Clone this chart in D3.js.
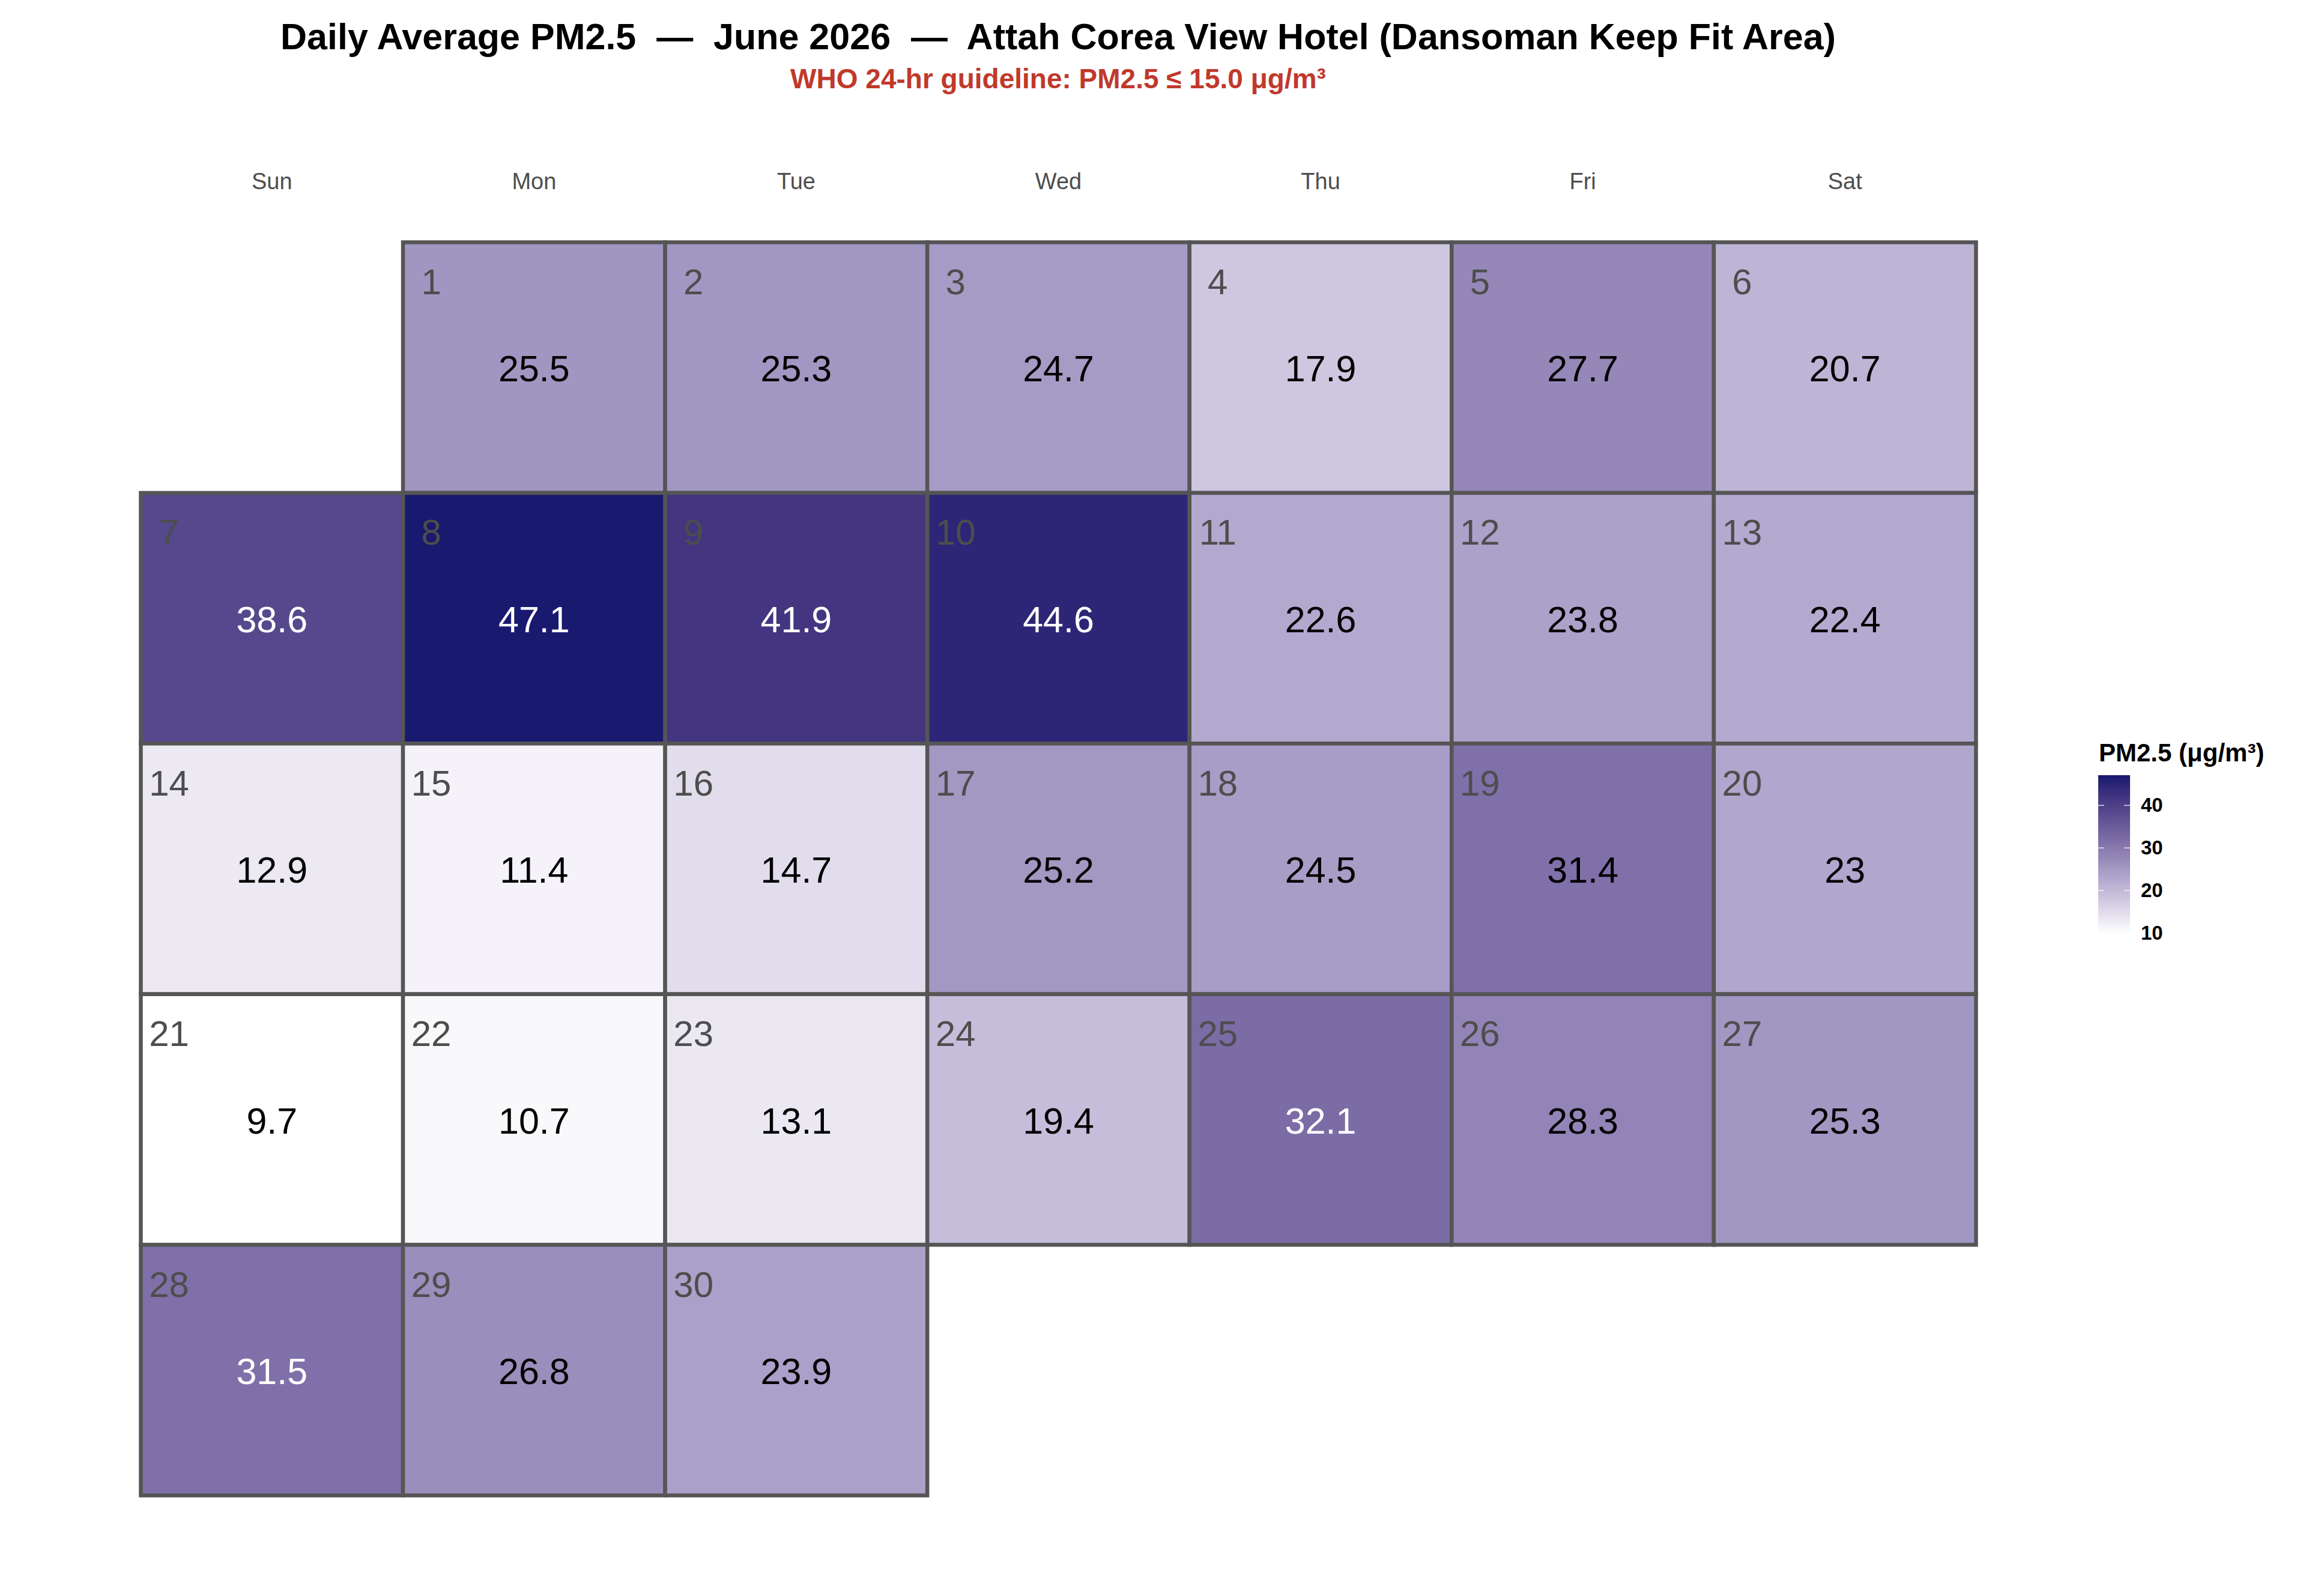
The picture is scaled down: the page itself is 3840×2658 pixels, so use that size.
<!DOCTYPE html>
<html>
<head>
<meta charset="utf-8">
<script src="https://cdn.jsdelivr.net/npm/d3@7"></script>
<style>
  body { margin: 0; background: #fff; }
  text { font-family: "Liberation Sans", Arial, sans-serif; }
</style>
</head>
<body>
<svg id="chart" width="3840" height="2658"></svg>
<script>
// data: June 2026 daily PM2.5 means
const year = 2026;
const month = 5; // June (0-based)
const days = d3.range(1, 31);
const pm25 = [
  25.5, 25.3, 24.7, 17.9, 27.7, 20.7,
  38.6, 47.1, 41.9, 44.6, 22.6, 23.8, 22.4,
  12.9, 11.4, 14.7, 25.2, 24.5, 31.4, 23,
  9.7, 10.7, 13.1, 19.4, 32.1, 28.3, 25.3,
  31.5, 26.8, 23.9
];
const weekdays = ["Sun", "Mon", "Tue", "Wed", "Thu", "Fri", "Sat"];
const legendTicks = [10, 20, 30, 40];

const titleText = "Daily Average PM2.5  \u2014  June 2026  \u2014  Attah Corea View Hotel (Dansoman Keep Fit Area)";
const subtitleText = "WHO 24-hr guideline: PM2.5 \u2264 15.0 \u03bcg/m\u00b3";

const svg = d3.select("#chart");
const font = '"Liberation Sans", Arial, sans-serif';

// build cells from the dates
const firstDay = new Date(year, month, 1);
const cells = days.map((d, i) => {
  const date = new Date(year, month, d);
  return {
    day: d,
    value: pm25[i],
    dow: date.getDay(),
    week: d3.timeWeek.count(firstDay, date)
  };
});

const x = d3.scaleBand().domain(weekdays).range([234.5, 3290.5]);
const y = d3.scaleBand().domain(d3.range(5)).range([403.5, 2490.5]);

const extent = d3.extent(pm25);
// colour ramp, white -> lavender -> midnight blue
const color = d3.scaleLinear()
  .domain([extent[0], 17.9, 22.6, 25.5, 28.3, 32.1, 41.9, 44.6, extent[1]])
  .range(["#ffffff", "#cfc7e0", "#b3a9cf", "#a196c1", "#9284b6", "#7b6ca6", "#433580", "#2d2677", "#191970"])
  .clamp(true);

// titles
svg.append("text")
  .attr("x", 1762).attr("y", 82)
  .attr("text-anchor", "middle")
  .style("white-space", "pre")
  .style("font-size", "61px").style("font-weight", "bold")
  .style("fill", "#000")
  .text(titleText);

svg.append("text")
  .attr("x", 1762).attr("y", 147)
  .attr("text-anchor", "middle")
  .style("font-size", "46px").style("font-weight", "bold")
  .style("fill", "#c0392b")
  .text(subtitleText);

// weekday header
svg.append("g").selectAll("text")
  .data(weekdays)
  .join("text")
  .attr("x", d => x(d) + x.bandwidth() / 2)
  .attr("y", 315)
  .attr("text-anchor", "middle")
  .style("font-size", "38px")
  .style("fill", "#4d4d4d")
  .text(d => d);

// tiles
const g = svg.append("g");
g.selectAll("rect")
  .data(cells)
  .join("rect")
  .attr("x", d => x(weekdays[d.dow]))
  .attr("y", d => y(d.week))
  .attr("width", x.bandwidth())
  .attr("height", y.bandwidth())
  .attr("fill", d => color(d.value))
  .attr("stroke", "#555555")
  .attr("stroke-width", 6.5);

// day numbers
g.selectAll("text.day")
  .data(cells)
  .join("text")
  .attr("class", "day")
  .attr("x", d => x(weekdays[d.dow]) + 47)
  .attr("y", d => y(d.week) + 86.5)
  .attr("text-anchor", "middle")
  .style("font-size", "60px")
  .style("fill", "#4d4d4d")
  .text(d => d.day);

// values
g.selectAll("text.val")
  .data(cells)
  .join("text")
  .attr("class", "val")
  .attr("x", d => x(weekdays[d.dow]) + x.bandwidth() / 2)
  .attr("y", d => y(d.week) + y.bandwidth() / 2)
  .attr("dy", "0.38em")
  .attr("text-anchor", "middle")
  .style("font-size", "61px")
  .style("fill", d => d.value >= 31.5 ? "#ffffff" : "#000000")
  .text(d => d3.format("~f")(d.value));

// legend
const ly = d3.scaleLinear().domain(extent).range([1556, 1291]);
const lx = 3494, lw = 53;

const grad = svg.append("defs").append("linearGradient")
  .attr("id", "pmgrad")
  .attr("x1", 0).attr("y1", 1).attr("x2", 0).attr("y2", 0);
grad.selectAll("stop")
  .data(d3.range(0, 1.0001, 0.02))
  .join("stop")
  .attr("offset", t => t)
  .attr("stop-color", t => color(extent[0] + t * (extent[1] - extent[0])));

svg.append("text")
  .attr("x", 3495).attr("y", 1268)
  .style("font-size", "42px").style("font-weight", "bold")
  .style("fill", "#000")
  .text("PM2.5 (\u03bcg/m\u00b3)");

svg.append("rect")
  .attr("x", lx).attr("y", ly(extent[1]))
  .attr("width", lw).attr("height", ly(extent[0]) - ly(extent[1]))
  .attr("fill", "url(#pmgrad)");

const tickG = svg.append("g");
tickG.selectAll("line.l")
  .data(legendTicks)
  .join("line")
  .attr("x1", lx).attr("x2", lx + 10)
  .attr("y1", d => ly(d)).attr("y2", d => ly(d))
  .attr("stroke", "#ffffff").attr("stroke-width", 1.5).attr("opacity", 0.8);
tickG.selectAll("line.r")
  .data(legendTicks)
  .join("line")
  .attr("x1", lx + lw - 10).attr("x2", lx + lw)
  .attr("y1", d => ly(d)).attr("y2", d => ly(d))
  .attr("stroke", "#ffffff").attr("stroke-width", 1.5).attr("opacity", 0.8);

const axis = d3.axisRight(ly).tickValues(legendTicks).tickSize(0).tickPadding(0);
const axG = svg.append("g")
  .attr("transform", `translate(3565,0)`)
  .call(axis);
axG.select(".domain").remove();
axG.selectAll("text")
  .attr("x", 0)
  .style("font-family", font)
  .style("font-size", "33px")
  .style("font-weight", "bold")
  .style("fill", "#000");
</script>
</body>
</html>
